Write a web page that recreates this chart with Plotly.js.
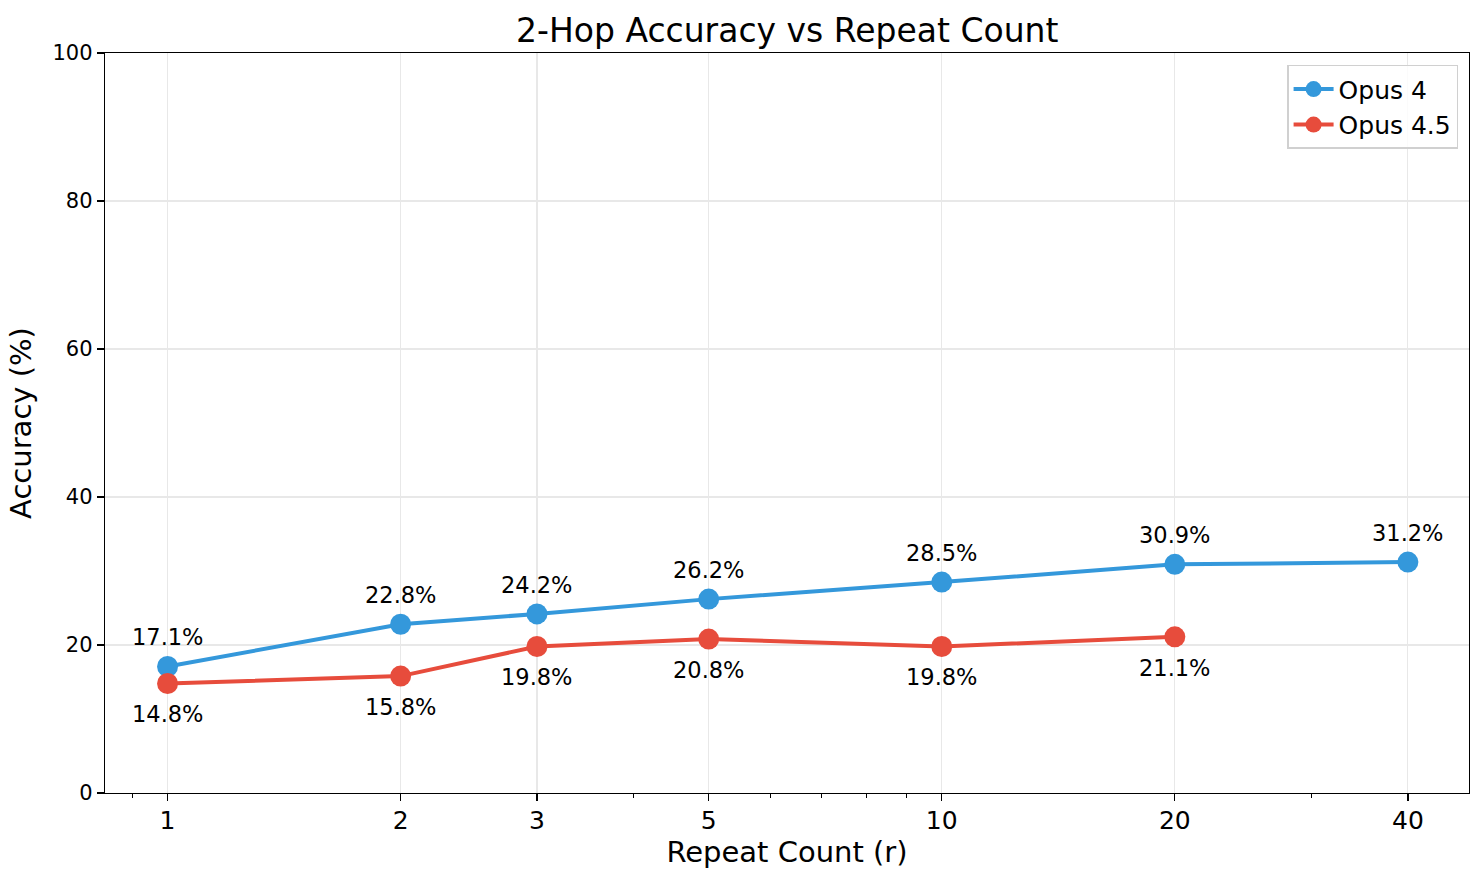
<!DOCTYPE html>
<html lang="en">
  <head>
    <meta charset="utf-8">
    <title>2-Hop Accuracy vs Repeat Count</title>
    <script src="https://cdn.plot.ly/plotly-3.0.1.min.js" charset="utf-8"></script>
    <style>
      body { margin: 0; background: #fff; }
    </style>
  </head>
  <body>
    <div id="plot" style="width:1484px;height:883px"></div>
    <script type="text/javascript">
      const FONT = "DejaVu Sans, sans-serif";

      // values
      const repeats4 = [1, 2, 3, 5, 10, 20, 40];
      const opus4 = [17.1, 22.8, 24.2, 26.2, 28.5, 30.9, 31.2];
      const repeats45 = [1, 2, 3, 5, 10, 20];
      const opus45 = [14.8, 15.8, 19.8, 20.8, 19.8, 21.1];
      const majorTicks = [1, 2, 3, 5, 10, 20, 40];
      const minorTicks = [0.9, 4, 6, 7, 8, 9, 30];

      const BLUE = '#3498db';
      const RED = '#e74c3c';

      let traces = [
        {
          x: repeats4, y: opus4,
          type: 'scatter', mode: 'lines+markers', name: 'Opus 4',
          line: {color: BLUE, width: 4},
          marker: {color: BLUE, size: 21}
        },
        {
          x: repeats45, y: opus45,
          type: 'scatter', mode: 'lines+markers', name: 'Opus 4.5',
          line: {color: RED, width: 4},
          marker: {color: RED, size: 21}
        }
      ];

      // value labels: above for Opus 4, below for Opus 4.5
      let labels = [];
      repeats4.forEach((r, i) => labels.push({
        x: Math.log10(r), y: opus4[i], text: opus4[i].toFixed(1) + '%',
        showarrow: false, yshift: 29, font: {family: FONT, size: 22.5, color: '#000'}
      }));
      repeats45.forEach((r, i) => labels.push({
        x: Math.log10(r), y: opus45[i], text: opus45[i].toFixed(1) + '%',
        showarrow: false, yshift: -31, font: {family: FONT, size: 22.5, color: '#000'}
      }));

      let layout = {
        width: 1484, height: 883,
        margin: {l: 105, r: 15, t: 53, b: 90},
        paper_bgcolor: '#fff', plot_bgcolor: '#fff',
        font: {family: FONT, color: '#000'},
        showlegend: true,
        title: {
          text: '2-Hop Accuracy vs Repeat Count',
          font: {family: FONT, size: 33, color: '#000'},
          x: 0.5305, xanchor: 'center', y: 0.966, yanchor: 'middle'
        },
        xaxis: {
          type: 'log',
          range: [-0.0808, 1.681],
          tickmode: 'array', tickvals: majorTicks, ticktext: majorTicks.map(String),
          ticks: 'outside', ticklen: 7, tickwidth: 1.3, tickcolor: '#000',
          tickfont: {family: FONT, size: 25, color: '#000'},
          ticklabelstandoff: -2,
          minor: {tickmode: 'array', tickvals: minorTicks, ticks: 'outside', ticklen: 4, tickwidth: 1, tickcolor: '#000', showgrid: false},
          showgrid: true, gridcolor: '#e8e8e8', gridwidth: 1.2,
          showline: true, linecolor: '#000', linewidth: 1.3, mirror: true,
          zeroline: false,
          title: {text: 'Repeat Count (r)', font: {family: FONT, size: 29, color: '#000'}, standoff: 6}
        },
        yaxis: {
          range: [0, 100],
          tickmode: 'array', tickvals: [0, 20, 40, 60, 80, 100],
          ticks: 'outside', ticklen: 7, tickwidth: 1.3, tickcolor: '#000',
          tickfont: {family: FONT, size: 21, color: '#000'},
          showgrid: true, gridcolor: '#e8e8e8', gridwidth: 1.2,
          showline: true, linecolor: '#000', linewidth: 1.3, mirror: true,
          zeroline: false,
          title: {text: 'Accuracy (%)', font: {family: FONT, size: 29, color: '#000'}, standoff: 12}
        },
        legend: {
          x: 0.992, xanchor: 'right', y: 0.984, yanchor: 'top',
          bgcolor: 'rgba(255,255,255,0.8)', bordercolor: '#d0d0d0', borderwidth: 1.5,
          font: {family: FONT, size: 25, color: '#000'},
          itemwidth: 40
        },
        annotations: labels
      };

      Plotly.newPlot(document.getElementById('plot'), traces, layout, {displayModeBar: false, staticPlot: true});
    </script>
  </body>
</html>
